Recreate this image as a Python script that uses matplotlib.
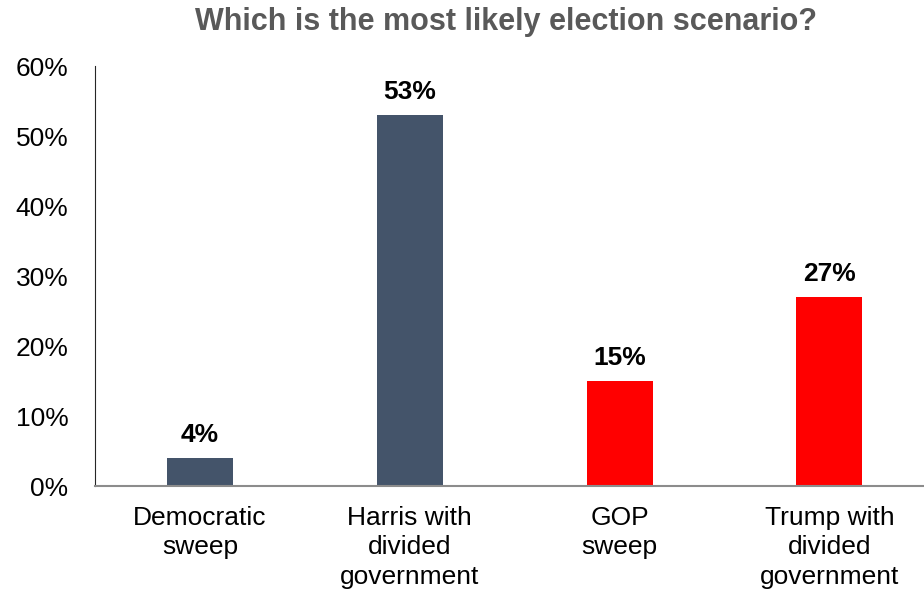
import matplotlib.pyplot as plt
from matplotlib.ticker import PercentFormatter

plt.rcParams['font.family'] = ['Liberation Sans', 'DejaVu Sans']

scenarios = ["Democratic\nsweep", "Harris with\ndivided\ngovernment",
             "GOP\nsweep", "Trump with\ndivided\ngovernment"]
shares = [4, 53, 15, 27]
bar_colors = ["#44546A", "#44546A", "#FF0000", "#FF0000"]

fig = plt.figure(figsize=(9.24, 5.95), dpi=100)
ax = fig.add_axes([0.1028, 0.183, 0.897, 0.706])

x = range(len(shares))
ax.bar(x, shares, width=0.315, color=bar_colors)

for xi, v in zip(x, shares):
    ax.text(xi, v + 1.6, f"{v}%", ha='center', va='bottom',
            fontsize=19, fontweight='bold', color='black')

ax.set_ylim(0, 60)
ax.set_xlim(-0.5, 3.45)
ax.set_yticks(range(0, 61, 10))
ax.yaxis.set_major_formatter(PercentFormatter(decimals=0))
ax.set_xticks(list(x))
ax.set_xticklabels(scenarios, fontsize=19, linespacing=1.3)
ax.tick_params(axis='y', labelsize=19, length=0, pad=19)
ax.tick_params(axis='x', length=0, pad=14)

for s in ['top', 'right']:
    ax.spines[s].set_visible(False)
ax.spines['left'].set_color('#262626')
ax.spines['bottom'].set_color('#8C8C8C')
ax.spines['bottom'].set_linewidth(1.5)

fig.text(0.548, 0.963, "Which is the most likely election scenario?",
         ha='center', va='center', fontsize=22, fontweight='bold', color='#595959')

fig.savefig("out.png", dpi=100)
